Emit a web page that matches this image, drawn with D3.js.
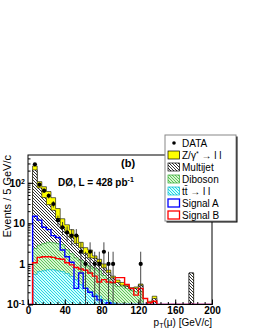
<!DOCTYPE html>
<html>
<head>
<meta charset="utf-8">
<script src="https://cdn.jsdelivr.net/npm/d3@7"></script>
<style>
  body { margin: 0; background: #fff; }
  svg { display: block; font-family: "Liberation Sans", Arial, sans-serif; }
</style>
</head>
<body>
<div id="chart"></div>
<script>
// 5 GeV bins, lower edges
const binLow = [0,5,10,15,20,25,30,35,40,45,50,55,60,65,70,75,80,85,90,95,
                100,105,110,115,120,125,130,135,140,145,150,155,160,165,170,175,180,185,190,195];
const binWidth = 5;

// backgrounds (stacked: ttbar, diboson, multijet, Z)
const ttbar    = [0,0.55,0.65,0.68,0.72,0.72,0.68,0.65,0.58,0.49,0.41,0.31,0.26,0.21,0.18,0.16,0.13,0.125,0.11,0.1,
                  0.07,0.06,0.05,0.05,0.05,0,0,0,0,0,0,0,0,0,0,0,0,0,0,0];
const diboson  = [0,1.85,2.25,2.5,2.7,2.6,2.5,2.35,1.65,1.3,1.0,0.9,0.76,0.65,0.6,0.52,0.39,0.29,0.22,0.18,
                  0.21,0.19,0.17,0.16,0.16,0,0,0,0,0,0,0,0,0,0,0,0,0,0,0];
const multijet = [0,205,72,40,25.5,17.7,10,5,3.5,2.7,1.8,1.3,0.8,0.55,0.6,0.42,0.28,0.19,0.12,0.07,
                  0.02,0.03,0.02,0.04,0.09,0.08,0.11,0.14,0,0,0,0,0,0,0,0.6,0,0,0,0];
const zll      = [0,53,32,37,32,22,10,5,3.5,2.5,1.8,0.9,0.7,0.8,0.2,0.2,0.2,0.1,0.05,0.05,
                  0.05,0.02,0.02,0.02,0.02,0.02,0.01,0.02,0,0,0,0,0,0,0,0,0,0,0,0];
// signals (lines)
const signalA  = [0,15,12,8,7,5,4.5,2.2,1.5,1.1,0.25,0.6,0.25,0.2,0.16,0.13,0.1,0.11,0.05,0.04,
                  0,0,0,0,0,0,0,0,0,0,0,0,0,0,0,0,0,0,0,0];
const signalB  = [0,1.07,1.45,1.5,1.5,1.45,1.35,1.3,1.07,0.95,0.82,0.75,0.7,0.6,0.5,0.36,0.41,0.36,0.35,0.46,
                  0.46,0.31,0.25,0.17,0.25,0.14,0.11,0.12,0,0,0,0,0,0,0,0,0,0,0,0];
// data counts
const dataN    = [0,285,90,64,48,30,12,8,6,5,5,2,1,2,1,1,2,1,1,0,
                  0,0,0,0,1,0,0,0,0,0,0,0,0,0,0,0,0,0,0,0];

const xTicks = [0,40,80,120,160,200];
const yTicks = [0.1,1,10,100];

const W = 255, H = 330;
const frame = { left: 28, right: 212, top: 155, bottom: 304.5 };

const svg = d3.select("#chart").append("svg")
    .attr("width", W).attr("height", H);

const defs = svg.append("defs");
defs.append("clipPath").attr("id", "clip")
    .append("rect")
    .attr("x", frame.left).attr("y", frame.top)
    .attr("width", frame.right - frame.left).attr("height", frame.bottom - frame.top);

// hatch patterns (lines going down to the right)
function hatch(id, bg, color, size, width) {
    const p = defs.append("pattern").attr("id", id)
        .attr("patternUnits", "userSpaceOnUse")
        .attr("width", size).attr("height", size);
    p.append("rect").attr("width", size).attr("height", size).attr("fill", bg);
    p.append("path")
        .attr("d", `M0,0 L${size},${size} M${-size/2},${size/2} L${size/2},${size*1.5} M${size/2},${-size/2} L${size*1.5},${size/2}`)
        .attr("stroke", color).attr("stroke-width", width);
}
hatch("mjHatch", "#ffffff", "#1a1a1a", 3, 0.9);
hatch("dbHatch", "#d8f5d0", "#3cb83c", 3, 0.8);
hatch("ttHatch", "#d0ffff", "#00c8d8", 3, 0.8);

const x = d3.scaleLinear().domain([0, 200]).range([frame.left, frame.right]);
const y = d3.scaleLog().domain([0.1, 485]).range([frame.bottom, frame.top]).clamp(true);

// cumulative stack tops
const cumTT = ttbar.slice();
const cumDB = cumTT.map((v, i) => v + diboson[i]);
const cumMJ = cumDB.map((v, i) => v + multijet[i]);
const cumZ  = cumMJ.map((v, i) => v + zll[i]);

function steps(vals) {
    const pts = [];
    vals.forEach((v, i) => {
        pts.push([binLow[i], v]);
        pts.push([binLow[i] + binWidth, v]);
    });
    return pts;
}
const yv = v => y(Math.max(v, 0.01));

const area = d3.area()
    .x(d => x(d[0]))
    .y0(frame.bottom)
    .y1(d => yv(d[1]));
const line = d3.line()
    .x(d => x(d[0]))
    .y(d => yv(d[1]));

const plot = svg.append("g").attr("clip-path", "url(#clip)");

// stacked histograms, tallest first
const layers = [
    { vals: cumZ,  fill: "#ffff00",       stroke: "#000000" },
    { vals: cumMJ, fill: "url(#mjHatch)", stroke: "#000000" },
    { vals: cumDB, fill: "url(#dbHatch)", stroke: "#2ea82e" },
    { vals: cumTT, fill: "url(#ttHatch)", stroke: "#00b8d0" }
];
layers.forEach(l => {
    plot.append("path")
        .attr("d", area(steps(l.vals)))
        .attr("fill", l.fill)
        .attr("stroke", l.stroke)
        .attr("stroke-width", 0.6);
});

// signal lines
plot.append("path").attr("d", line(steps(signalA)))
    .attr("fill", "none").attr("stroke", "#0000ff").attr("stroke-width", 1.4);
plot.append("path").attr("d", line(steps(signalB)))
    .attr("fill", "none").attr("stroke", "#ff0000").attr("stroke-width", 1.4);

// data points with sqrt(N) errors
const pts = dataN.map((n, i) => ({ c: binLow[i] + binWidth / 2, n })).filter(d => d.n > 0);
plot.selectAll(".err").data(pts).enter().append("line")
    .attr("x1", d => x(d.c)).attr("x2", d => x(d.c))
    .attr("y1", d => yv(d.n + Math.sqrt(d.n)))
    .attr("y2", d => yv(d.n - Math.sqrt(d.n)))
    .attr("stroke", "#333").attr("stroke-width", 0.9);
plot.selectAll(".pt").data(pts).enter().append("circle")
    .attr("cx", d => x(d.c)).attr("cy", d => y(d.n))
    .attr("r", 2.1).attr("fill", "#000");

// frame
svg.append("rect")
    .attr("x", frame.left).attr("y", frame.top)
    .attr("width", frame.right - frame.left).attr("height", frame.bottom - frame.top)
    .attr("fill", "none").attr("stroke", "#000").attr("stroke-width", 1);

// x axis
const xMinor = d3.range(0, 201, 8);
svg.append("g").attr("transform", `translate(0,${frame.bottom})`)
    .call(d3.axisBottom(x).tickValues(xMinor).tickSize(-2.5).tickFormat(""))
    .call(g => g.select(".domain").remove());
svg.append("g").attr("transform", `translate(0,${frame.bottom})`)
    .call(d3.axisBottom(x).tickValues(xTicks).tickSize(-5).tickPadding(2))
    .call(g => g.select(".domain").remove())
    .call(g => g.selectAll("text").attr("font-size", 10).attr("font-weight", "bold")
        .attr("font-family", "Liberation Sans, Arial, sans-serif"));

// y axis
const yMinor = y.ticks();
svg.append("g").attr("transform", `translate(${frame.left},0)`)
    .call(d3.axisLeft(y).tickValues(yMinor).tickSize(-2.5).tickFormat(""))
    .call(g => g.select(".domain").remove());
svg.append("g").attr("transform", `translate(${frame.left},0)`)
    .call(d3.axisLeft(y).tickValues(yTicks).tickSize(-5).tickPadding(3))
    .call(g => g.select(".domain").remove())
    .call(g => g.selectAll("text")
        .attr("font-size", 10.5).attr("font-weight", "bold")
        .attr("font-family", "Liberation Sans, Arial, sans-serif")
        .each(function (d) {
            const t = d3.select(this).text("");
            const e = Math.round(Math.log10(d));
            if (e === 0) { t.text("1"); return; }
            if (e === 1) { t.text("10"); return; }
            t.append("tspan").text("10");
            t.append("tspan").attr("dy", "-0.45em").attr("font-size", 7).text(e);
        }));

// axis titles
svg.append("text")
    .attr("transform", `translate(11,${frame.top}) rotate(-90)`)
    .attr("text-anchor", "end")
    .attr("font-size", 11)
    .text("Events / 5 GeV/c");

const xt = svg.append("text")
    .attr("x", frame.right).attr("y", 325.5)
    .attr("text-anchor", "end")
    .attr("font-size", 10);
xt.append("tspan").text("p");
xt.append("tspan").attr("font-size", 7).attr("dy", 2.5).text("T");
xt.append("tspan").attr("dy", -2.5).text("(\u03bc) [GeV/c]");

// annotations
svg.append("text").attr("x", 121).attr("y", 167)
    .attr("font-size", 11).attr("font-weight", "bold").text("(b)");
const dl = svg.append("text").attr("x", 58).attr("y", 186)
    .attr("font-size", 10).attr("font-weight", "bold");
dl.append("tspan").text("D\u00d8, L = 428 pb");
dl.append("tspan").attr("dy", -4).attr("font-size", 7).text("-1");

// legend
const lg = { x: 165, y: 135, w: 71, h: 86 };
svg.append("rect").attr("x", lg.x + 1.5).attr("y", lg.y + 1.5)
    .attr("width", lg.w).attr("height", lg.h).attr("fill", "#000");
svg.append("rect").attr("x", lg.x).attr("y", lg.y)
    .attr("width", lg.w).attr("height", lg.h)
    .attr("fill", "#fff").attr("stroke", "#888").attr("stroke-width", 1);

const entries = [
    { kind: "dot" },
    { fill: "#ffff00", stroke: "#000" },
    { fill: "url(#mjHatch)", stroke: "#000" },
    { fill: "url(#dbHatch)", stroke: "#2ea82e" },
    { fill: "url(#ttHatch)", stroke: "#00b8d0" },
    { fill: "#fff", stroke: "#0000ff", sw: 1.3 },
    { fill: "#fff", stroke: "#ff0000", sw: 1.3 }
];
entries.forEach((e, i) => {
    const cy = 143 + i * 12;
    if (e.kind === "dot") {
        svg.append("circle").attr("cx", 174).attr("cy", cy).attr("r", 1.8).attr("fill", "#000");
    } else {
        svg.append("rect").attr("x", 168).attr("y", cy - 4).attr("width", 11.5).attr("height", 8)
            .attr("fill", e.fill).attr("stroke", e.stroke).attr("stroke-width", e.sw || 0.7);
    }
    const t = svg.append("text").attr("x", 182).attr("y", cy + 3.5).attr("font-size", 10);
    if (i === 0) t.text("DATA");
    if (i === 1) {
        t.append("tspan").text("Z/\u03b3");
        t.append("tspan").attr("dy", -3).attr("font-size", 7).text("*");
        t.append("tspan").attr("dy", 3).text(" \u2192 l l");
    }
    if (i === 2) t.text("Multijet");
    if (i === 3) t.text("Diboson");
    if (i === 4) t.text("tt\u0304 \u2192 l l");
    if (i === 5) t.text("Signal A");
    if (i === 6) t.text("Signal B");
});
</script>
</body>
</html>
